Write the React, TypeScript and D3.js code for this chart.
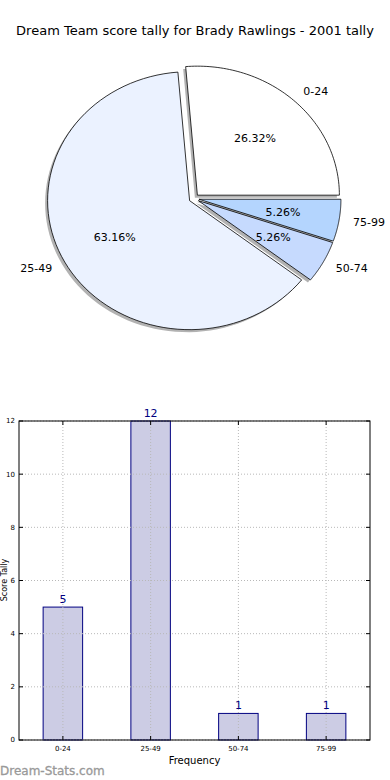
import React from 'react'
import * as d3 from 'd3'

const title = 'Dream Team score tally for Brady Rawlings - 2001 tally'
const categories = ['0-24', '25-49', '50-74', '75-99']
const tallies = [5, 12, 1, 1]
const pieColors = ['#ffffff', '#ebf2ff', '#c6dafe', '#b4d5fe']
const yTicks = [0, 2, 4, 6, 8, 10, 12]

const W = 390
const H = 780
const font = 'DejaVu Sans, sans-serif'

function PieChart() {
	const cx = 194
	const cy = 198.5
	const rx = 142
	const ry = 129
	const explode = 5
	const total = d3.sum(tallies)
	// matplotlib style: start at east, counterclockwise
	const angle = d3.scaleLinear().domain([0, total]).range([0, 2 * Math.PI])
	const cum = d3.cumsum(tallies)

	const slices = tallies.map((v, i) => {
		const a0 = angle(cum[i] - v)
		const a1 = angle(cum[i])
		const mid = (a0 + a1) / 2
		const ox = explode * Math.cos(mid)
		const oy = -explode * Math.sin(mid) * (ry / rx)
		const pts: [number, number][] = [[0, 0]]
		const n = 80
		for (let k = 0; k <= n; k++) {
			const a = a0 + ((a1 - a0) * k) / n
			pts.push([Math.cos(a), -Math.sin(a)])
		}
		return { v, i, a0, a1, mid, ox, oy, pts }
	})

	const toPath = (pts: [number, number][], dx: number, dy: number) =>
		d3.line()(pts.map(([x, y]) => [cx + dx + x * rx, cy + dy + y * ry])) + 'Z'

	return (
		<g>
			{slices.map((s) => (
				<path
					key={'sh' + s.i}
					d={toPath(s.pts, s.ox - 2.5, s.oy + 2.5)}
					fill="#000"
					fillOpacity={0.3}
				/>
			))}
			{slices.map((s) => (
				<path
					key={'sl' + s.i}
					d={toPath(s.pts, s.ox, s.oy)}
					fill={pieColors[s.i]}
					stroke="#000"
					strokeWidth={0.8}
				/>
			))}
			{slices.map((s) => {
				const lx = cx + s.ox + 1.1 * rx * Math.cos(s.mid)
				const ly = cy + s.oy - 1.1 * ry * Math.sin(s.mid)
				const px = cx + s.ox + 0.6 * rx * Math.cos(s.mid)
				const py = cy + s.oy - 0.6 * ry * Math.sin(s.mid)
				return (
					<g key={'lb' + s.i} fontFamily={font} fontSize={11}>
						<text
							x={lx}
							y={ly}
							dy="0.35em"
							textAnchor={Math.cos(s.mid) > 0 ? 'start' : 'end'}
						>
							{categories[s.i]}
						</text>
						<text x={px} y={py} dy="0.35em" textAnchor="middle">
							{((s.v / total) * 100).toFixed(2) + '%'}
						</text>
					</g>
				)
			})}
		</g>
	)
}

function BarChart() {
	const left = 19
	const right = 370
	const top = 421
	const bottom = 740
	const x = d3
		.scaleBand()
		.domain(categories)
		.range([left, right])
		.paddingInner(0.55)
		.paddingOuter(0.275)
	const y = d3.scaleLinear().domain([0, 12]).range([bottom, top])

	return (
		<g fontFamily={font}>
			{tallies.map((v, i) => (
				<rect
					key={'b' + i}
					x={x(categories[i])}
					y={y(v)}
					width={x.bandwidth()}
					height={y(0) - y(v)}
					fill="#cccce4"
					stroke="#000080"
					strokeWidth={1}
				/>
			))}
			{yTicks.map((t) => (
				<g key={'gy' + t}>
					<line
						x1={left}
						x2={right}
						y1={y(t)}
						y2={y(t)}
						stroke="#b8b8b8"
						strokeDasharray="1,2"
					/>
					<line x1={left} x2={left + 4} y1={y(t)} y2={y(t)} stroke="#000" />
					<line x1={right - 4} x2={right} y1={y(t)} y2={y(t)} stroke="#000" />
					<text x={left - 4} y={y(t)} dy="0.35em" textAnchor="end" fontSize={7}>
						{t}
					</text>
				</g>
			))}
			{categories.map((c) => {
				const cxp = (x(c) as number) + x.bandwidth() / 2
				return (
					<g key={'gx' + c}>
						<line
							x1={cxp}
							x2={cxp}
							y1={top}
							y2={bottom}
							stroke="#b8b8b8"
							strokeDasharray="1,2"
						/>
						<line x1={cxp} x2={cxp} y1={bottom - 4} y2={bottom} stroke="#000" />
						<line x1={cxp} x2={cxp} y1={top} y2={top + 4} stroke="#000" />
						<text x={cxp} y={bottom + 11} textAnchor="middle" fontSize={7}>
							{c}
						</text>
					</g>
				)
			})}
			{tallies.map((v, i) => (
				<text
					key={'v' + i}
					x={(x(categories[i]) as number) + x.bandwidth() / 2}
					y={y(v) - 4}
					textAnchor="middle"
					fontSize={11}
					fill="#000080"
				>
					{v}
				</text>
			))}
			<rect
				x={left}
				y={top}
				width={right - left}
				height={bottom - top}
				fill="none"
				stroke="#000"
				strokeWidth={1}
			/>
			<text x={(left + right) / 2} y={764} textAnchor="middle" fontSize={10}>
				Frequency
			</text>
			<text
				transform={`translate(7,580) rotate(-90)`}
				textAnchor="middle"
				fontSize={8}
			>
				Score Tally
			</text>
		</g>
	)
}

export default function App() {
	return (
		<svg
			width={W}
			height={H}
			style={{ position: 'absolute', left: 0, top: 0, background: '#fff' }}
		>
			<rect width={W} height={H} fill="#fff" />
			<text
				x={195}
				y={35}
				textAnchor="middle"
				fontFamily={font}
				fontSize={13}
			>
				{title}
			</text>
			<PieChart />
			<BarChart />
			<text
				x={0}
				y={775}
				fontFamily={font}
				fontSize={12}
				fill="#999"
				stroke="#999"
				strokeWidth={0.3}
			>
				Dream-Stats.com
			</text>
		</svg>
	)
}
